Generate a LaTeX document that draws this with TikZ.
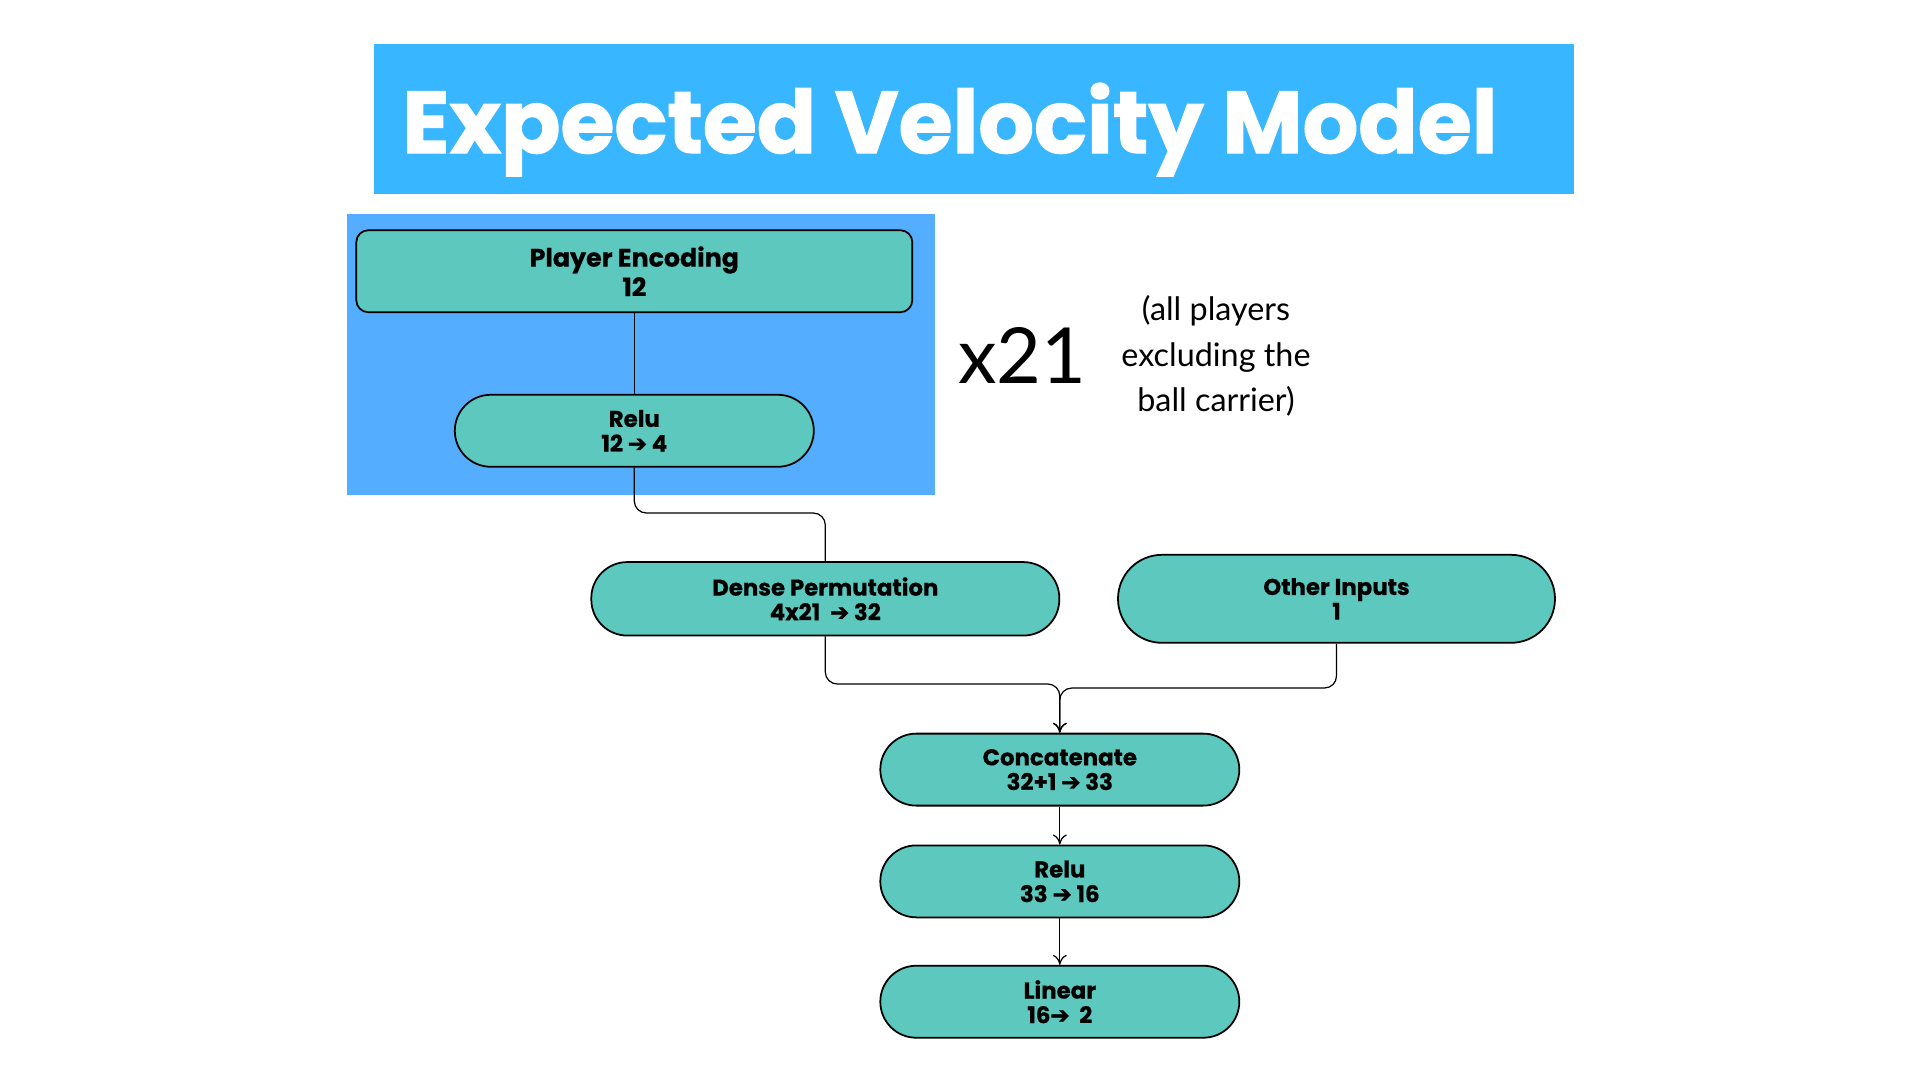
\documentclass[tikz,border=0pt]{standalone}
\usepackage{fontspec}
\setmainfont{Poppins}[BoldFeatures={FakeBold=0.6}]
\newfontfamily\titlefont{Poppins}[BoldFeatures={FakeBold=1.4}]
\newfontfamily\notefont{Lato}
\newfontfamily\symfont{DejaVu Sans}[FakeBold=2.5]
\usetikzlibrary{arrows.meta,positioning}
\definecolor{titleblue}{RGB}{56,182,255}
\definecolor{loopblue}{RGB}{84,173,255}
\definecolor{layerteal}{RGB}{92,200,190}
\newcommand{\tto}{{\symfont\char"2794}}

\begin{document}
\begin{tikzpicture}[x=0.1mm, y=-0.1mm, >={To[length=1mm,width=1.4mm]}, node distance=4mm]
        \tikzset{layer/.style={rectangle, draw, line width=0.5pt, fill=layerteal, align=center, inner sep=0pt, font=\fontsize{6.5}{7}\selectfont\bfseries, minimum width=35.9mm, minimum height=7.2mm, rounded corners=3.6mm},
                 wire/.style={line width=0.35pt, rounded corners=1.2mm}}
        \useasboundingbox (0,0) rectangle (1920,1080);
        \node[fill=titleblue, inner sep=0pt, minimum width=120mm, minimum height=15.06mm, anchor=north west] (banner) at (373.5,43) {};
        \node[anchor=base west, inner sep=0pt, text=white, font=\titlefont\fontsize{24.9}{24.9}\selectfont\bfseries] (title) at (401.6,153) {Expected Velocity Model};
        \node[fill=loopblue, inner sep=0pt, minimum width=58.78mm, minimum height=28.17mm, anchor=north west] (loop) at (346.5,213) {};
        \node[layer, rounded corners=1.2mm, minimum width=55.6mm, minimum height=8.2mm, font=\fontsize{7.2}{8.4}\selectfont\bfseries] (penc) at (634.3,271.2) {Player Encoding\\12};
        \node[layer, below=8.08mm of penc] (relu1) {Relu\\12 \tto{} 4};
        \node[layer, minimum width=46.8mm, minimum height=7.35mm] (dense) at (825.3,598.8) {Dense Permutation\\4x21 \ \tto{} 32};
        \node[layer, minimum width=43.7mm, minimum height=8.8mm, rounded corners=4.4mm] (other) at (1336.5,598.8) {Other Inputs\\1};
        \node[layer] (concat) at (1059.8,769.6) {Concatenate\\32+1 \tto{} 33};
        \node[layer, below=3.8mm of concat] (relu2) {Relu\\33 \tto{} 16};
        \node[layer, below=4.66mm of relu2] (linear) {Linear\\16\tto{}\ \ 2};
        \node[font=\notefont\fontsize{22}{22}\selectfont] (times) at (1022.5,355) {x21};
        \node[align=center, font=\notefont\fontsize{9.2}{12.9}\selectfont] (note) at (1216,356) {(all players\\excluding the\\ball carrier)};
        \coordinate (bend1) at (825.3,513);
        \coordinate (joinL) at (1059.8,684);
        \coordinate (joinR) at (1059.8,688);
        \draw[wire] (penc) -- (relu1);
        \draw[wire] (relu1.south) |- (bend1) -- (dense.north);
        \draw[wire, ->] (dense.south) |- (joinL) -- (concat.north);
        \draw[wire, ->] (other.south) |- (joinR) -- (concat.north);
        \draw[wire, ->] (concat) -- (relu2);
        \draw[wire, ->] (relu2) -- (linear);
    \end{tikzpicture}
\end{document}
